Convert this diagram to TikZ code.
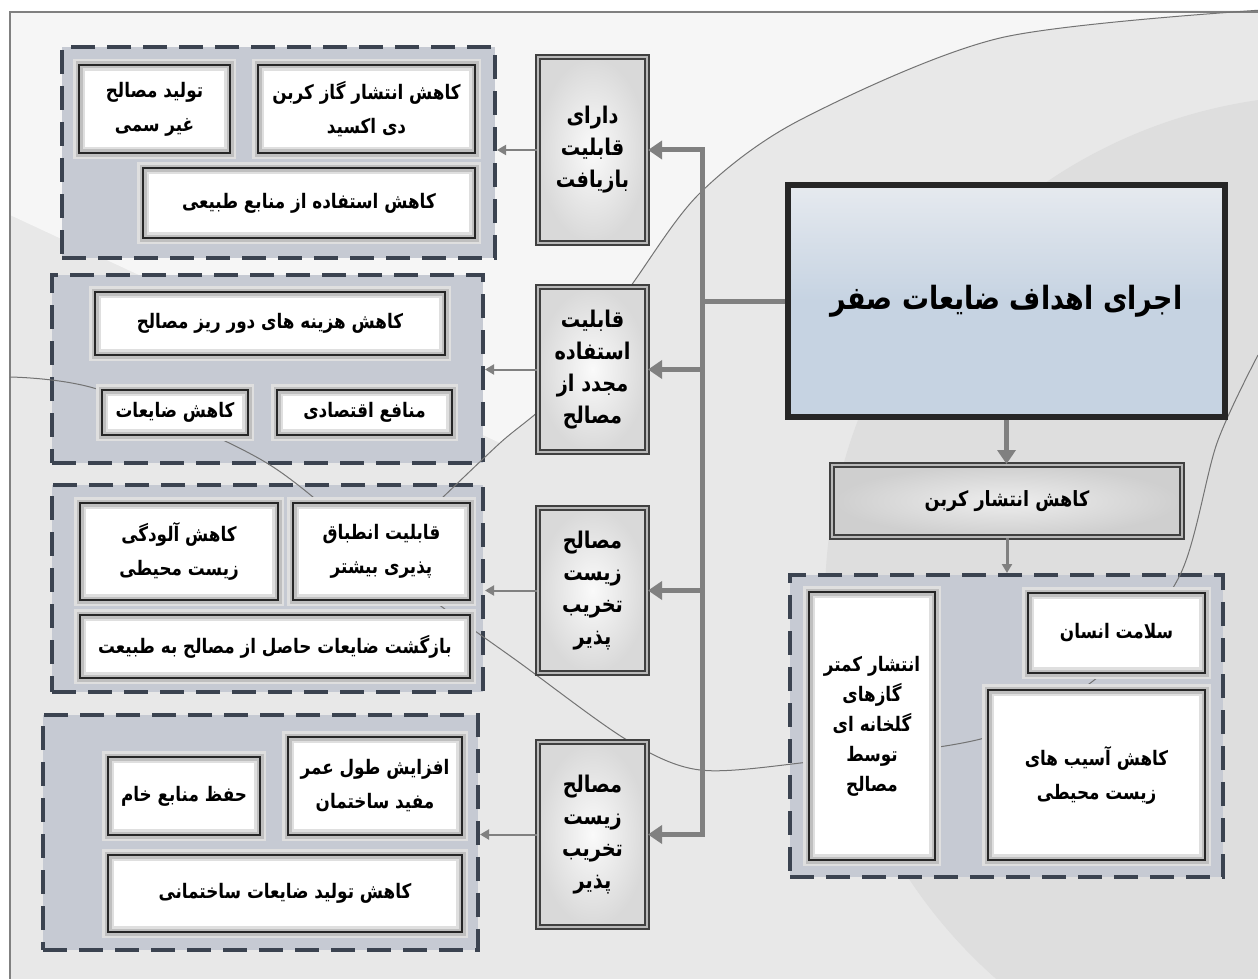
\documentclass[tikz,border=0pt]{standalone}
\usepackage{fontspec}
\newfontfamily\fafont[Script=Arabic,FakeStretch=0.84]{DejaVu Sans}
\TeXXeTstate=1
\usepackage{xcolor}
\definecolor{grpline}{RGB}{59,67,80}
\definecolor{grpfill}{RGB}{198,202,211}
\definecolor{mainfill}{RGB}{198,211,226}
\definecolor{mainlight}{RGB}{230,234,239}
\definecolor{arrgray}{RGB}{128,128,128}
\definecolor{bggray}{RGB}{232,232,232}
\definecolor{bglight}{RGB}{246,246,246}
\definecolor{bgdark}{RGB}{222,222,222}
\usepackage{tikz}
\usetikzlibrary{arrows.meta,positioning}
\newcommand{\fa}[1]{\beginR #1\endR}

\begin{document}
\begin{tikzpicture}[x=0.5pt,y=-0.5pt,
  grp/.style={draw=grpline,fill=grpfill,line width=2pt,dash pattern=on 12pt off 6pt,inner sep=0pt},
  wbox/.style={draw=black!85,line width=1.3pt,preaction={fill=white},
    preaction={draw=gray!25,line width=6pt},preaction={draw=gray!50,line width=3.5pt},
    inner sep=0pt,align=center,font=\fafont\bfseries\fontsize{10}{17}\selectfont},
  mbox/.style={draw=black!75,double=gray!55,double distance=1pt,line width=1pt,
    inner color=gray!4,outer color=gray!30,inner sep=0pt,align=center,
    font=\fafont\bfseries\fontsize{11.5}{16}\selectfont},
  mainbox/.style={draw=black!85,line width=2.6pt,top color=mainlight,bottom color=mainfill,
    middle color=mainfill,inner sep=0pt,font=\fafont\bfseries\fontsize{16}{20}\selectfont},
  thk/.style={draw=arrgray,line width=2.5pt},
  thkarr/.style={thk,-{Triangle[length=7pt,width=9pt]}},
  thinarr/.style={draw=arrgray,line width=1pt,-{Triangle[length=4.5pt,width=5pt]}},
  curve/.style={draw=black!55,line width=0.5pt}]
  \useasboundingbox (0,0) rectangle (1258,979);
  \clip (0,0) rectangle (1258,979);
  \fill[white] (0,0) rectangle (1258,979);
  \fill[bggray] (10,12) rectangle (1262,983);
  \fill[bgdark] (1330,600) circle[radius=505];
  \fill[bglight] (10,12) -- plot[smooth] coordinates {(1262,10) (1000,38) (800,120) (700,193) (633,283) (560,390) (500,443)} -- (10,215) -- cycle;
  \draw[black!50,line width=1pt] (10,12) rectangle (1262,983);

  \node[grp,minimum width=216.5pt,minimum height=105.5pt] (g1) at (278.5,152.5) {};
  \node[grp,minimum width=215.5pt,minimum height=94pt] (g2) at (267.5,369) {};
  \node[grp,minimum width=215.5pt,minimum height=103.5pt] (g3) at (267.5,588.5) {};
  \node[grp,minimum width=217.5pt,minimum height=117.5pt] (g4) at (260.5,832.5) {};
  \node[grp,minimum width=216.5pt,minimum height=151pt] (g5) at (1006.5,726) {};

  \draw[curve] plot[smooth] coordinates {(1262,10) (1000,38) (800,120) (700,193) (633,283) (560,390) (500,443) (440,500)};
  \draw[curve] plot[smooth] coordinates {(10,377) (100,390) (270,465) (420,590) (520,663) (627,740) (700,770) (809,762) (988,737) (1103,673) (1180,575) (1217,443) (1258,355)};

  \node[wbox,minimum width=75.5pt,minimum height=44pt] (a1) at (154.5,109) {\fa{تولید مصالح}\\\fa{غیر سمی}};
  \node[wbox,minimum width=108.5pt,minimum height=44pt] (a2) at (366.5,109) {\fa{کاهش انتشار گاز کربن}\\\fa{دی اکسید}};
  \node[wbox,minimum width=166pt,minimum height=35pt] (a3) at (309,203) {\fa{کاهش استفاده از منابع طبیعی}};

  \node[wbox,minimum width=175pt,minimum height=31.5pt] (b1) at (270,323.5) {\fa{کاهش هزینه های دور ریز مصالح}};
  \node[wbox,minimum width=73pt,minimum height=22.5pt] (b2) at (175,412.5) {\fa{کاهش ضایعات}};
  \node[wbox,minimum width=87.5pt,minimum height=22.5pt] (b3) at (364.5,412.5) {\fa{منافع اقتصادی}};

  \node[wbox,minimum width=99pt,minimum height=48.5pt] (c1) at (179,551.5) {\fa{کاهش آلودگی}\\\fa{زیست محیطی}};
  \node[wbox,minimum width=88.5pt,minimum height=48.5pt] (c2) at (381.5,551.5) {\fa{قابلیت انطباق}\\\fa{پذیری بیشتر}};
  \node[wbox,minimum width=195pt,minimum height=31.5pt] (c3) at (275,646.5) {\fa{بازگشت ضایعات حاصل از مصالح به طبیعت}};

  \node[wbox,minimum width=76pt,minimum height=39pt] (d1) at (184,796) {\fa{حفظ منابع خام}};
  \node[wbox,minimum width=87pt,minimum height=49pt] (d2) at (375,786) {\fa{افزایش طول عمر}\\\fa{مفید ساختمان}};
  \node[wbox,minimum width=177pt,minimum height=38.5pt] (d3) at (285,893.5) {\fa{کاهش تولید ضایعات ساختمانی}};

  \node[mbox,minimum width=54.5pt,minimum height=93pt] (m1) at (592.5,150) {\fa{دارای}\\\fa{قابلیت}\\\fa{بازیافت}};
  \node[mbox,minimum width=54.5pt,minimum height=82.5pt] (m2) at (592.5,369.5) {\fa{قابلیت}\\\fa{استفاده}\\\fa{مجدد از}\\\fa{مصالح}};
  \node[mbox,minimum width=54.5pt,minimum height=82.5pt] (m3) at (592.5,590.5) {\fa{مصالح}\\\fa{زیست}\\\fa{تخریب}\\\fa{پذیر}};
  \node[mbox,minimum width=54.5pt,minimum height=92.5pt] (m4) at (592.5,834.5) {\fa{مصالح}\\\fa{زیست}\\\fa{تخریب}\\\fa{پذیر}};

  \node[mainbox,minimum width=218.5pt,minimum height=116pt] (main) at (1006.5,301) {\fa{اجرای اهداف ضایعات صفر}};
  \node[mbox,inner color=gray!14,outer color=gray!38,minimum width=175pt,minimum height=36pt,font=\fafont\bfseries\fontsize{10.5}{16}\selectfont] (carbon) at (1007,501) {\fa{کاهش انتشار کربن}};

  \node[wbox,minimum width=63pt,minimum height=134pt,font=\fafont\bfseries\fontsize{10}{15}\selectfont] (e1) at (872,726) {\fa{انتشار کمتر}\\\fa{گازهای}\\\fa{گلخانه ای}\\\fa{توسط}\\\fa{مصالح}};
  \node[wbox,minimum width=88.5pt,minimum height=40pt] (e2) at (1116.5,633) {\fa{سلامت انسان}};
  \node[wbox,minimum width=108.5pt,minimum height=85pt] (e3) at (1096.5,775) {\fa{کاهش آسیب های}\\\fa{زیست محیطی}};

  \coordinate (spine) at (702,301);
  \draw[thk] (main.west) -- (spine);
  \foreach \m in {m1,m2,m3,m4}
    \draw[thkarr] (spine) |- (\m.east);
  \draw[thinarr] (m1.west) -- (m1.west -| g1.east);
  \draw[thinarr] (m2.west) -- (m2.west -| g2.east);
  \draw[thinarr] (m3.west) -- (m3.west -| g3.east);
  \draw[thinarr] (m4.west) -- (m4.west -| g4.east);
  \draw[thkarr] (main.south) -- (main.south |- carbon.north);
  \draw[thinarr,line width=1.5pt] (carbon.south) -- (carbon.south |- g5.north);
\end{tikzpicture}
\end{document}
